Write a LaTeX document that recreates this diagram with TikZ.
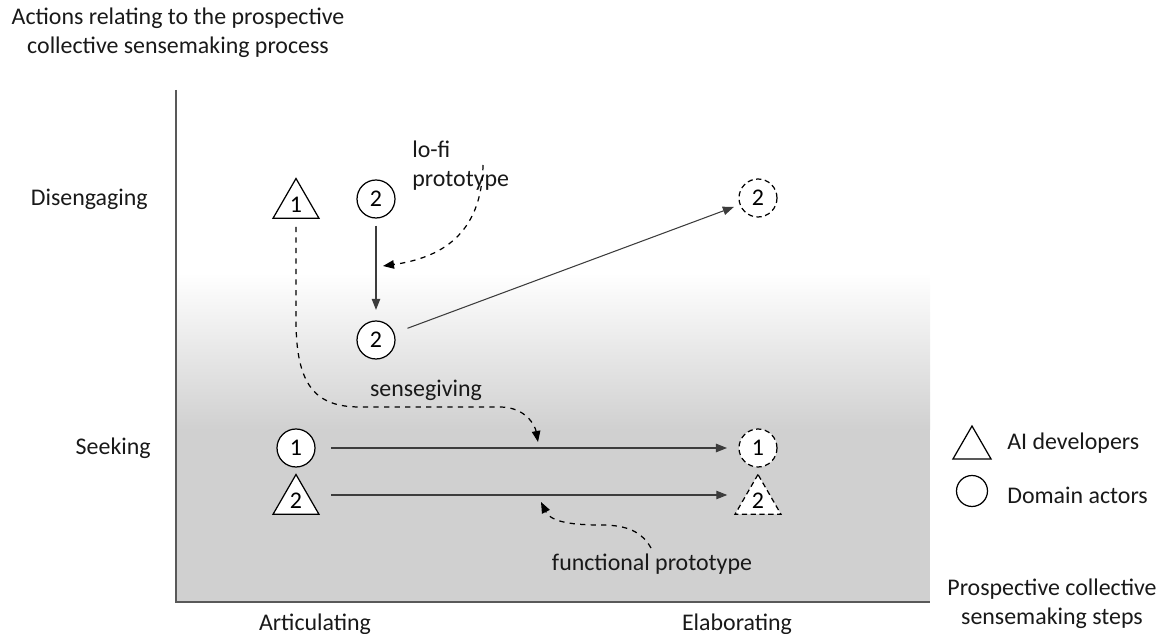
\documentclass[tikz,border=0pt]{standalone}
\usepackage{fontspec}
\setmainfont{Carlito}
\usetikzlibrary{shapes.geometric,arrows.meta}
\definecolor{panelgray}{RGB}{208,208,208}
\definecolor{inkgray}{RGB}{60,60,60}

\begin{document}
\begin{tikzpicture}[
    x=0.02cm, y=0.02cm,
    font=\fontsize{13.6}{16.4}\selectfont,
    actor/.style={circle, draw, fill=white, minimum size=0.76cm, inner sep=0pt, line width=0.7pt},
    dev/.style={regular polygon, regular polygon sides=3, draw, fill=white, minimum size=1.06cm, inner sep=0pt, line width=0.7pt},
    later/.style={dash pattern=on 3pt off 2pt},
    txt/.style={inner sep=0pt, text=black!90},
    flow/.style={-{Triangle[length=2.2mm,width=1.7mm]}, draw=inkgray, line width=0.6pt},
    cue/.style={-{Triangle[length=2.2mm,width=1.7mm]}, dashed, line width=0.7pt},
    axis/.style={draw=black!65, line width=0.8pt}
  ]
    \useasboundingbox (0,0) rectangle (1164,-634);

    % background panel
    \shade[top color=white, bottom color=panelgray] (176,-273) rectangle (930,-430);
    \fill[panelgray] (176,-430) rectangle (930,-602);
    \draw[axis] (176,-90) -- (176,-602) -- (930,-602);

    % axis labels
    \node[txt, align=center] (ytitle) at (178,-33) {Actions relating to the prospective\\collective sensemaking process};
    \node[txt, anchor=east] (diseng) at (148,-199) {Disengaging};
    \node[txt, anchor=east] (seek) at (151,-448) {Seeking};
    \node[txt] (artic) at (315,-624) {Articulating};
    \node[txt] (elab) at (737,-624) {Elaborating};
    \node[txt, align=center] (xtitle) at (1052,-604) {Prospective collective\\sensemaking steps};

    % actors
    \node[dev] (t1) at (296,-205) {1};
    \node[actor] (a2top) at (376,-199) {2};
    \node[actor] (a2mid) at (376,-340) {2};
    \node[actor, later] (a2end) at (758,-198) {2};
    \node[actor] (a1) at (296,-448) {1};
    \node[dev] (t2) at (296,-501) {2};
    \node[actor, later] (a1end) at (758,-448) {1};
    \node[dev, later] (t2end) at (758,-501) {2};

    % legend
    \node[dev, minimum size=0.88cm] (legdev) at (972,-448) {};
    \node[actor, minimum size=0.62cm] (legact) at (972,-491) {};
    \node[txt, anchor=west] (legdevtxt) at (1007,-443) {AI developers};
    \node[txt, anchor=west] (legacttxt) at (1007,-495) {Domain actors};

    % cue labels
    \node[txt, align=left, anchor=west] (lofitxt) at (412,-166) {lo-fi\\prototype};
    \node[txt] (sgtxt) at (426,-390) {sensegiving};
    \node[txt] (fptxt) at (652,-564) {functional prototype};

    \coordinate (lofi) at (483,-165);
    \coordinate (lofitip) at (383,-266);
    \coordinate (sgtip) at (538,-442);
    \coordinate (fpstart) at (651,-548);
    \coordinate (fptip) at (541,-502);

    % moves
    \draw[flow, shorten <=4pt, shorten >=6pt] (a2top) -- (a2mid);
    \draw[flow, shorten <=8pt, shorten >=3.5pt] (a2mid) -- (a2end);
    \draw[flow, shorten <=9pt, shorten >=6.5pt] (a1) -- (a1end);
    \draw[flow, shorten <=20pt, shorten >=17.5pt] ([yshift=0.12cm]t2.center) -- ([yshift=0.12cm]t2end.center);

    % cues
    \draw[cue] (lofi) .. controls (482,-235) and (440,-258) .. (lofitip);
    \draw[cue] ([yshift=-4.5pt]t1.south) -- (296,-320) .. controls (296,-385) and (315,-407) .. (360,-407) -- (500,-407) .. controls (525,-407) and (535,-425) .. (sgtip);
    \draw[cue] (fpstart) .. controls (640,-528) and (620,-525) .. (600,-525) .. controls (565,-525) and (550,-520) .. (fptip);
\end{tikzpicture}
\end{document}
